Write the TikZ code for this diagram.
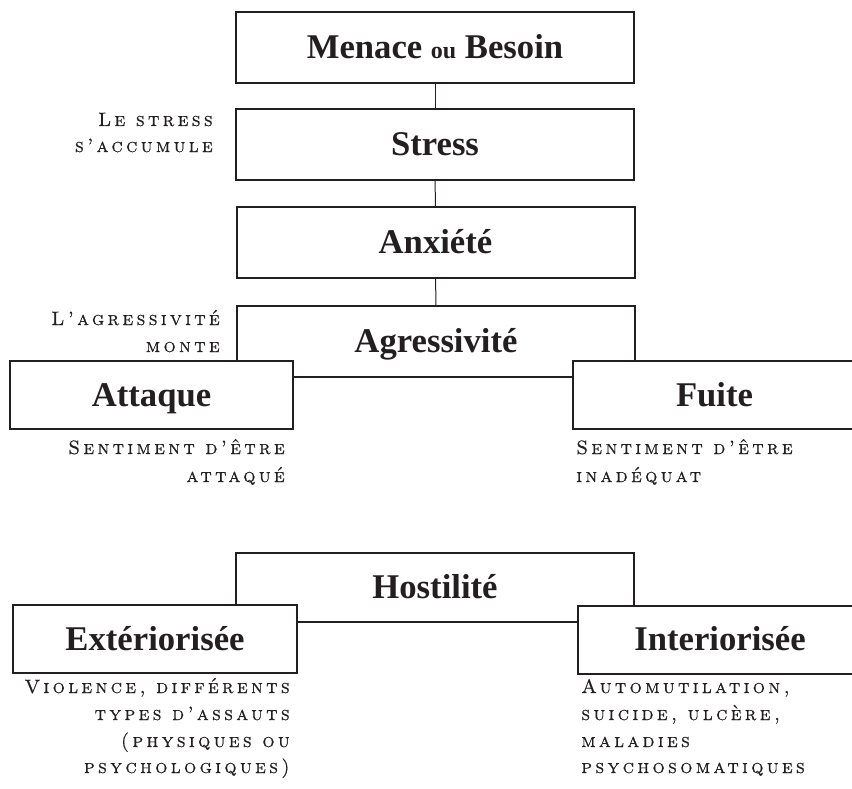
\documentclass[tikz,border=0pt]{standalone}
\usepackage{fontspec}
\newfontfamily\headfont{Liberation Serif}
\newfontfamily\labfam[Extension=.otf,LetterSpace=17,FakeBold=0.6]{lmromancaps10-regular}
\definecolor{ink}{RGB}{35,31,32}
\newcommand\labfont{\labfam\fontsize{14.5}{17}\selectfont}
\tikzset{
  box/.style={draw=ink, line width=1.5pt, fill=white, text=ink,
    font=\headfont\bfseries\fontsize{26}{30}\selectfont,
    text height=17pt, text depth=0pt, inner sep=0pt},
  widebox/.style={minimum width=298.5pt, minimum height=53.25pt},
  sidebox/.style={minimum width=212.5pt, minimum height=51pt},
  lab/.style={text=ink, inner sep=0pt, font=\labfont},
  link/.style={draw=ink, line width=0.75pt}
}
\begin{document}
\begin{tikzpicture}[x=0.75pt,y=-0.75pt]
\useasboundingbox (0,0) rectangle (852,788);
% main chain
\node[box,widebox] (menace) at (435,47.5) {Menace {\fontsize{18}{20}\selectfont ou} Besoin};
\node[box,widebox] (stress) at (435,144.5) {Stress};
\node[box,widebox] (anx) at (435.5,242.5) {Anxiété};
\node[box,widebox] (agr) at (436,341.5) {Agressivité};
\node[box,sidebox] (att) at (151.5,395) {Attaque};
\node[box,sidebox] (fui) at (714.5,395) {Fuite};
\node[box,widebox,minimum height=51.75pt] (hos) at (435,587.5) {Hostilité};
\node[box,sidebox] (ext) at (155,639) {Extériorisée};
\node[box,sidebox] (int) at (720,639.5) {Interiorisée};
\draw[link] (menace) -- (stress);
\draw[link] (stress) -- (anx);
\draw[link] (anx) -- (agr);
% side labels
\node[lab,anchor=base east] (ls1) at (213,126) {Le stress};
\node[lab,anchor=base east] (ls2) at (213,152) {s’accumule};
\node[lab,anchor=base east] (la1) at (220,325) {L’agressivité};
\node[lab,anchor=base east] (la2) at (220,352) {monte};
\node[lab,anchor=base east] (at1) at (285,454) {Sentiment d’être};
\node[lab,anchor=base east] (at2) at (285,482) {attaqué};
\node[lab,anchor=base west] (fu1) at (576,454) {Sentiment d’être};
\node[lab,anchor=base west] (fu2) at (576,482) {inadéquat};
\node[lab,anchor=base east] (ex1) at (290,693) {Violence, différents};
\node[lab,anchor=base east] (ex2) at (290,720) {types d’assauts};
\node[lab,anchor=base east] (ex3) at (290,747) {(physiques ou};
\node[lab,anchor=base east] (ex4) at (290,773) {psychologiques)};
\node[lab,anchor=base west] (in1) at (581,693) {Automutilation,};
\node[lab,anchor=base west] (in2) at (581,720) {suicide, ulcère,};
\node[lab,anchor=base west] (in3) at (581,747) {maladies};
\node[lab,anchor=base west] (in4) at (581,773) {psychosomatiques};
\end{tikzpicture}
\end{document}
